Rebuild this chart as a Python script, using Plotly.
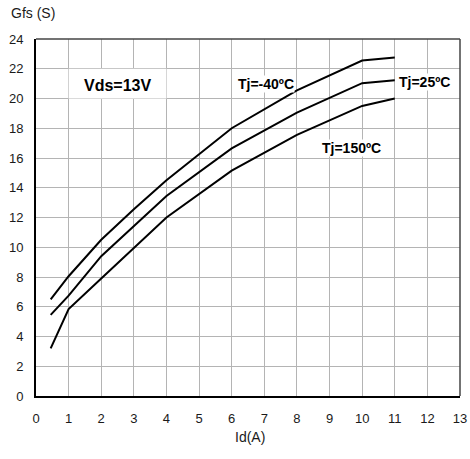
import plotly.graph_objects as go

# Data
id_m40 = [0.45, 1, 2, 3, 4, 6, 8, 10, 11]
gfs_m40 = [6.5, 8.05, 10.5, 12.55, 14.5, 18.0, 20.55, 22.55, 22.75]

id_25 = [0.45, 1, 2, 4, 6, 8, 10, 11]
gfs_25 = [5.45, 6.75, 9.4, 13.45, 16.65, 19.05, 21.03, 21.23]

id_150 = [0.45, 1, 2, 3, 4, 6, 8, 10, 11]
gfs_150 = [3.2, 5.85, 7.9, 9.95, 12.0, 15.15, 17.55, 19.5, 20.0]

x_ticks = list(range(0, 14))
y_ticks = list(range(0, 25, 2))

FONT = "Liberation Sans, Arial, sans-serif"

fig = go.Figure()
for xs, ys in [(id_m40, gfs_m40), (id_25, gfs_25), (id_150, gfs_150)]:
    fig.add_trace(go.Scatter(x=xs, y=ys, mode="lines",
                             line=dict(color="black", width=2),
                             showlegend=False, hoverinfo="skip"))

# white box behind Vds label
fig.add_shape(type="rect", x0=1, x1=4, y0=20, y1=22, xref="x", yref="y",
              fillcolor="white", line=dict(width=0), layer="above")
# top & right border
fig.add_shape(type="line", x0=0, x1=1, y0=1, y1=1, xref="paper", yref="paper",
              line=dict(color="#444", width=1.5))
fig.add_shape(type="line", x0=1, x1=1, y0=0, y1=1, xref="paper", yref="paper",
              line=dict(color="#444", width=1.5))

ann_font = dict(family=FONT, size=14, color="black")
fig.add_annotation(x=2.5, y=20.85, text="<b>Vds=13V</b>", showarrow=False,
                   font=dict(family=FONT, size=16, color="black"))
fig.add_annotation(x=7.04, y=21.0, text="<b>Tj=-40ºC</b>", showarrow=False,
                   font=ann_font, bgcolor="white", borderpad=0)
fig.add_annotation(x=11.92, y=21.12, text="<b>Tj=25ºC</b>", showarrow=False,
                   font=ann_font, bgcolor="white", borderpad=0)
fig.add_annotation(x=9.66, y=16.7, text="<b>Tj=150ºC</b>", showarrow=False,
                   font=ann_font, bgcolor="white", borderpad=0)

# axis titles
fig.add_annotation(x=-0.0637, y=1.0736, xref="paper", yref="paper",
                   text="Gfs (S)", showarrow=False, xanchor="left", yanchor="middle",
                   font=dict(family=FONT, size=14, color="#1a1a1a"))
fig.add_annotation(x=0.505, y=-0.116, xref="paper", yref="paper",
                   text="Id(A)", showarrow=False, xanchor="center", yanchor="middle",
                   font=dict(family=FONT, size=14, color="#1a1a1a"))

fig.update_layout(
    width=470, height=459,
    margin=dict(l=36, r=10, t=39, b=63),
    paper_bgcolor="white", plot_bgcolor="white",
    font=dict(family=FONT, size=13, color="#1a1a1a"),
    xaxis=dict(range=[0, 13], tickvals=x_ticks, showgrid=True,
               gridcolor="#b4b4b4", gridwidth=1, zeroline=False,
               showline=True, linecolor="black", linewidth=2,
               ticks="", ticklabelstandoff=9, fixedrange=True,
               automargin=False),
    yaxis=dict(range=[0, 24], tickvals=y_ticks, showgrid=True,
               gridcolor="#b4b4b4", gridwidth=1, zeroline=False,
               showline=True, linecolor="black", linewidth=2,
               ticks="", ticklabelstandoff=8, fixedrange=True,
               automargin=False),
)

fig.write_html("out.html",
               config={"displayModeBar": False},
               post_script="document.body.style.margin='0';"
                           "document.body.style.overflow='hidden';")
